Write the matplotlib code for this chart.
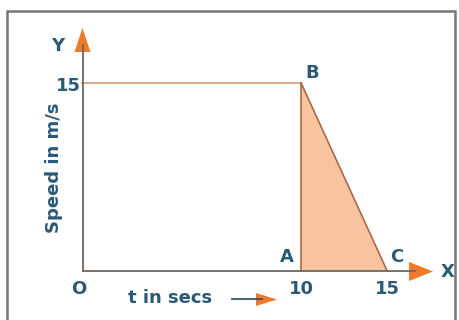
import numpy as np
import matplotlib.pyplot as plt
from matplotlib.patches import Polygon, Rectangle

# speed-time graph: constant speed then uniform retardation
t_points = [0, 10, 15]          # O, A, C on the time axis
speed_top = 15                  # speed from O to B
path_t = [0, 10, 15]            # horizontal part then slope B->C
path_v = [15, 15, 0]
tri_t = [10, 10, 15]            # shaded triangle A-B-C
tri_v = [0, 15, 0]
point_names = ['A', 'B', 'C']
point_t = [10, 10, 15]
point_v = [0, 15, 0]

W, H = 459, 320
text_col = '#2a5a78'
orange = '#f07a2a'
axis_col = '#6e6660'

# the picture is a sketch: 10..15 is drawn shorter than 0..10
knots_in = [-10, 0, 10, 15, 25]
knots_out = [-10, 0, 10, 13.93, 21.79]
def fwd(x):
    return np.interp(x, knots_in, knots_out)
def inv(x):
    return np.interp(x, knots_out, knots_in)

fig = plt.figure(figsize=(W / 100, H / 100), dpi=100)
ax = fig.add_axes([0, 0, 1, 1])
ax.set_xscale('function', functions=(fwd, inv))
ax.set_xlim(-3.744, 19.17)
ax.set_ylim(-3.91, 21.62)
ax.axis('off')

def px(x, y):
    # pixel position in the picture -> axes fraction
    return (x / W, 1 - y / H)

# outer frame
ax.add_patch(Rectangle(px(7, 330), 448 / W, 319 / H, transform=ax.transAxes,
                       fill=False, ec='#777777', lw=1.8))

# shaded triangle and the graph lines
ax.fill(tri_t, tri_v, color='#f8c4a0', lw=0)
ax.plot([0, path_t[1]], [speed_top, speed_top], color='#dca27c', lw=1.3)
ax.plot([10, 10], [0, 15], color='#a86a48', lw=1.2)
ax.plot(path_t[1:], path_v[1:], color='#a86a48', lw=1.2)

# axes with orange arrow heads
ax.plot(*zip(px(82.5, 271), px(82.5, 45)), transform=ax.transAxes, color=axis_col, lw=1.3)
ax.plot(*zip(px(82.5, 271), px(415, 271)), transform=ax.transAxes, color=axis_col, lw=1.3)
ax.add_patch(Polygon([px(74.5, 52), px(90.5, 52), px(82.5, 28)], transform=ax.transAxes,
                     color=orange, lw=0))
ax.add_patch(Polygon([px(409, 262), px(409, 281), px(433, 271.5)], transform=ax.transAxes,
                     color=orange, lw=0))

fs = 13
kw = dict(color=text_col, fontweight='bold', fontsize=fs, family='DejaVu Sans')
ax.text(*px(58, 46), 'Y', ha='center', va='center', transform=ax.transAxes, **kw)
ax.text(*px(448, 272), 'X', ha='center', va='center', transform=ax.transAxes, **kw)
ax.text(*px(79, 289), 'O', ha='center', va='center', transform=ax.transAxes, **kw)
ax.text(*px(68, 86), str(speed_top), ha='center', va='center', transform=ax.transAxes, **kw)
ax.text(*px(54, 168), 'Speed in m/s', rotation=90, ha='center', va='center',
        transform=ax.transAxes, **kw)
for t in t_points[1:]:
    ax.annotate(str(t), (t, 0), xytext=(0, -13), textcoords='offset points',
                ha='center', va='center', **kw)
offsets = {'A': (-10, 10), 'B': (8, 7), 'C': (7, 10)}
for name, t, v in zip(point_names, point_t, point_v):
    ax.annotate(name, (t, v), xytext=offsets[name], textcoords='offset points',
                ha='center', va='center', **kw)

# "t in secs" with its little arrow
ax.text(*px(128, 298), 't in secs', ha='left', va='center', transform=ax.transAxes, **kw)
ax.plot(*zip(px(232, 299), px(262, 299)), transform=ax.transAxes, color='#3a5565', lw=1.3)
ax.add_patch(Polygon([px(256, 293), px(256, 306), px(277, 299.5)], transform=ax.transAxes,
                     color=orange, lw=0))

fig.savefig('out.png', dpi=100)
